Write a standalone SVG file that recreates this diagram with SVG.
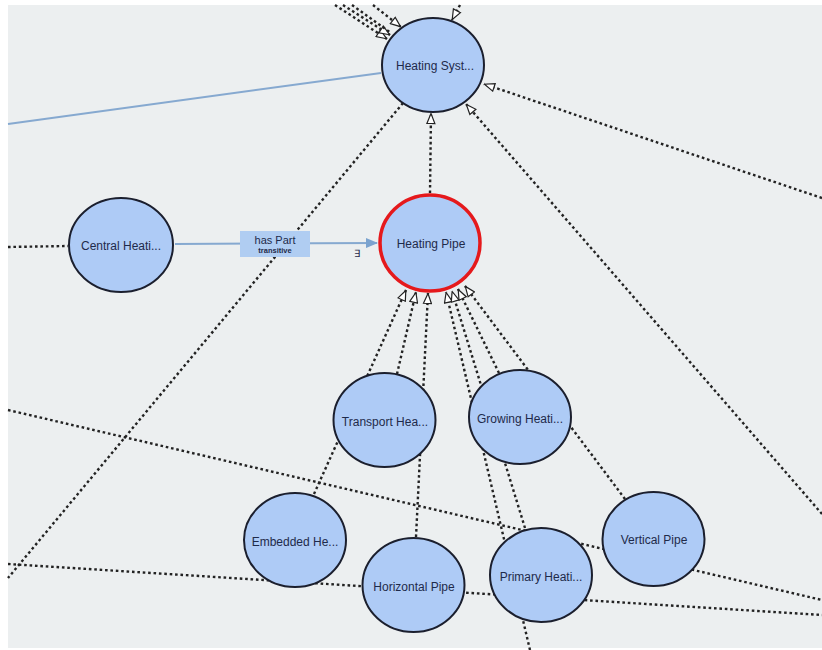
<svg xmlns="http://www.w3.org/2000/svg" width="822" height="650" viewBox="0 0 822 650">
<defs>
<style>
.bg{fill:#eceff0}
.dot{fill:none;stroke:#222;stroke-width:2.4;stroke-dasharray:2.6 2.8}
.blue{fill:none;stroke:#86a9d0;stroke-width:2}
.node{fill:#aecbf6;stroke:#1b1f2e;stroke-width:2}
.sel{fill:#aecbf6;stroke:#e5191c;stroke-width:3.5}
.lbl{font-family:"Liberation Sans",Arial,sans-serif;font-size:12px;fill:#1e2a4a;text-anchor:middle}
.elab{font-family:"Liberation Sans",Arial,sans-serif;fill:#1e2a4a;text-anchor:middle}
</style>
<marker id="tri" markerUnits="userSpaceOnUse" viewBox="0 0 12 10" markerWidth="12" markerHeight="10" refX="11.5" refY="5" orient="auto">
<path d="M1,1 L11,5 L1,9 Z" fill="#fff" stroke="#222" stroke-width="1.2"/>
</marker>
<marker id="bluearr" markerUnits="userSpaceOnUse" viewBox="0 0 12 10" markerWidth="12" markerHeight="10" refX="11" refY="5" orient="auto">
<path d="M0,0 L12,5 L0,10 Z" fill="#7ba3cf"/>
</marker>
</defs>
<rect x="0" y="0" width="822" height="650" fill="#fff"/>
<rect class="bg" x="8" y="5" width="814" height="643"/>
<g id="connectors">
<line class="dot" x1="335" y1="5" x2="387" y2="39" marker-end="url(#tri)"/>
<line class="dot" x1="343" y1="5" x2="390" y2="35" marker-end="url(#tri)"/>
<line class="dot" x1="352" y1="5" x2="391" y2="33"/>
<line class="dot" x1="373" y1="5" x2="401" y2="27" marker-end="url(#tri)"/>
<line class="dot" x1="460" y1="5" x2="452" y2="20" marker-end="url(#tri)"/>
<line class="dot" x1="822" y1="198" x2="484" y2="84" marker-end="url(#tri)"/>
<line class="dot" x1="822" y1="514" x2="466" y2="104" marker-end="url(#tri)"/>
<line class="dot" x1="430" y1="193" x2="431" y2="113" marker-end="url(#tri)"/>
<line class="dot" x1="403" y1="103" x2="8" y2="578"/>
<line class="dot" x1="8" y1="247" x2="68" y2="246"/>
<line class="dot" x1="8" y1="410" x2="822" y2="600"/>
<line class="dot" x1="8" y1="564" x2="822" y2="615"/>
<line class="dot" x1="314" y1="494" x2="406" y2="290" marker-end="url(#tri)"/>
<line class="dot" x1="397" y1="374" x2="416" y2="292" marker-end="url(#tri)"/>
<line class="dot" x1="416" y1="537" x2="428" y2="293" marker-end="url(#tri)"/>
<line class="dot" x1="530" y1="650" x2="446" y2="292" marker-end="url(#tri)"/>
<line class="dot" x1="525" y1="528" x2="452" y2="291" marker-end="url(#tri)"/>
<line class="dot" x1="499" y1="373" x2="458" y2="289" marker-end="url(#tri)"/>
<line class="dot" x1="625" y1="499" x2="465" y2="286" marker-end="url(#tri)"/>
<line class="blue" x1="8" y1="124" x2="381" y2="73"/>
<line class="blue" x1="175" y1="244" x2="377" y2="243" marker-end="url(#bluearr)"/>
<g id="edge-label">
<rect x="240" y="231" width="70" height="26" fill="#b0cdf2"/>
<text class="elab" x="275" y="244" font-size="11">has Part</text>
<text class="elab" x="275" y="253" font-size="7.5" font-weight="bold">transitive</text>
<text class="elab" x="357" y="257" font-size="10">∃</text>
</g>
</g>
<g id="node-heating-system"><ellipse class="node" cx="433" cy="65" rx="51" ry="47"/><text class="lbl" x="435" y="70">Heating Syst...</text></g>
<g id="node-heating-pipe"><ellipse class="sel" cx="430" cy="243" rx="50" ry="48"/><text class="lbl" x="431" y="248">Heating Pipe</text></g>
<g id="node-central"><ellipse class="node" cx="121" cy="245" rx="52" ry="47"/><text class="lbl" x="121" y="250">Central Heati...</text></g>
<g id="node-transport"><ellipse class="node" cx="384.5" cy="420" rx="51" ry="47"/><text class="lbl" x="385" y="426">Transport Hea...</text></g>
<g id="node-growing"><ellipse class="node" cx="520" cy="417" rx="51" ry="47"/><text class="lbl" x="520" y="423">Growing Heati...</text></g>
<g id="node-embedded"><ellipse class="node" cx="295" cy="540" rx="51" ry="47"/><text class="lbl" x="295" y="546">Embedded He...</text></g>
<g id="node-horizontal"><ellipse class="node" cx="413.5" cy="585" rx="51" ry="47"/><text class="lbl" x="414" y="591">Horizontal Pipe</text></g>
<g id="node-primary"><ellipse class="node" cx="541" cy="575" rx="51" ry="47"/><text class="lbl" x="541" y="581">Primary Heati...</text></g>
<g id="node-vertical"><ellipse class="node" cx="653.5" cy="539" rx="51" ry="47"/><text class="lbl" x="654" y="544">Vertical Pipe</text></g>
</svg>
